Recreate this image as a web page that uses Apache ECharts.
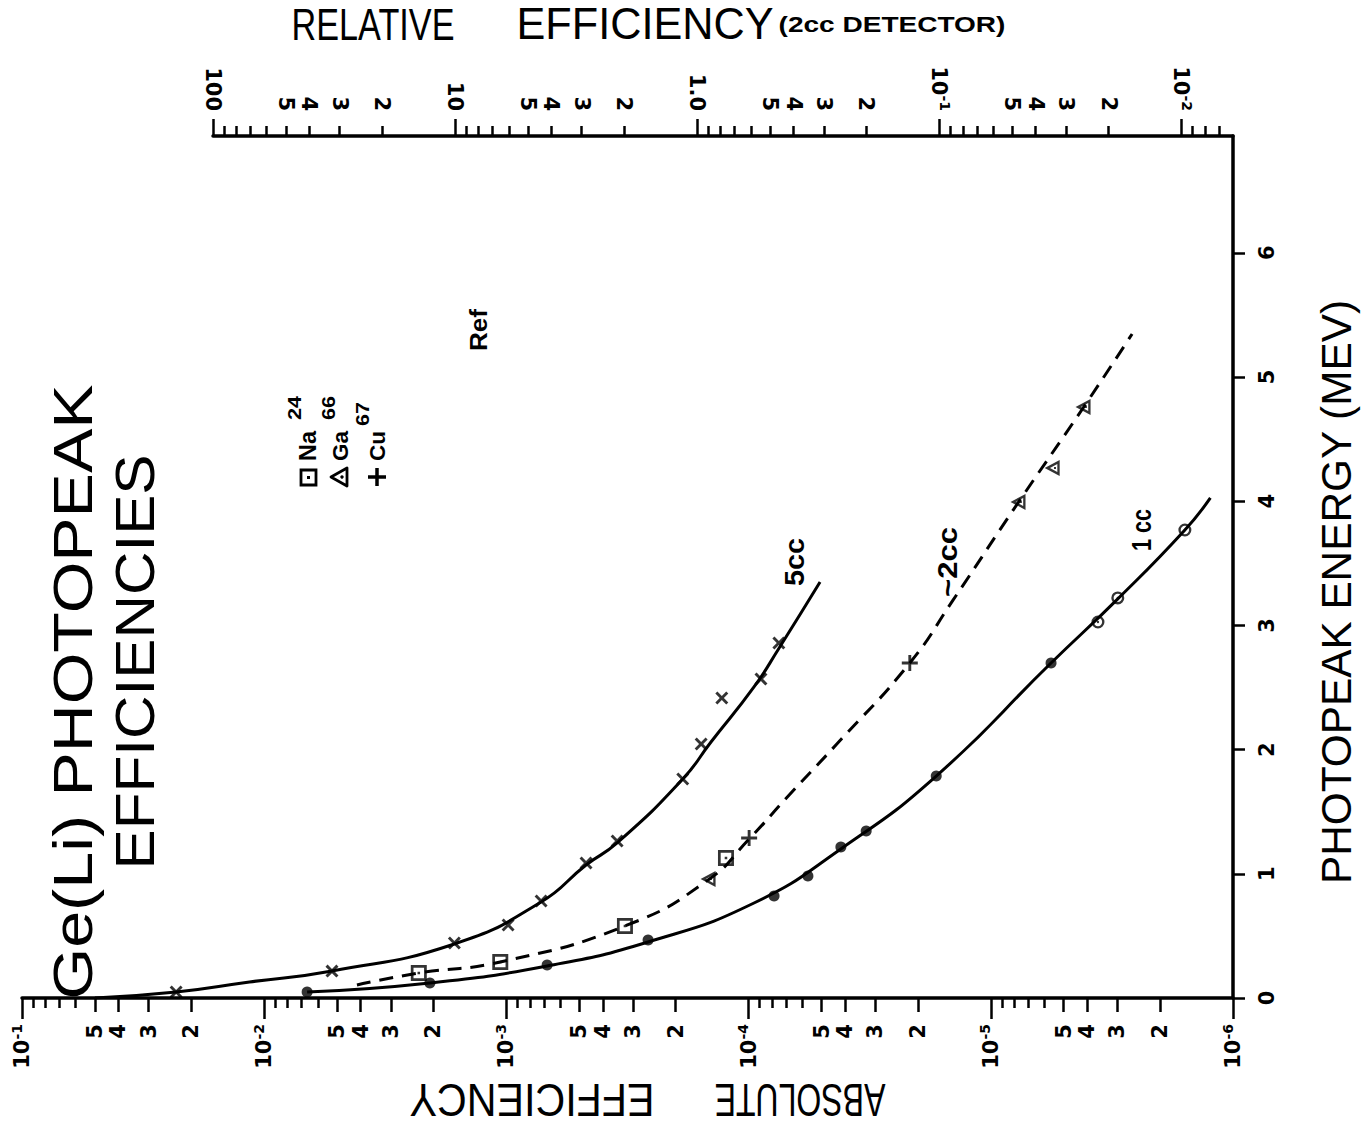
<!DOCTYPE html>
<html>
<head>
<meta charset="utf-8">
<script src="https://cdn.jsdelivr.net/npm/echarts@6/dist/echarts.min.js"></script>
<style>
  html, body { margin: 0; padding: 0; background: #fff; }
  #chart { width: 1362px; height: 1127px; }
</style>
</head>
<body>
<div id="chart"></div>
<script>
// ---- axis ticks -----------------------------------------------------------
// absolute efficiency: decades 10^-1 ... 10^-6 (log10 exponents)
const absDecades = [-1, -2, -3, -4, -5, -6];
// relative efficiency of the 2 cc detector: 100 ... 10^-2
const relDecades = [2, 1, 0, -1, -2];
const relDecadeText = ['100', '10', '1.0', '10|-1', '10|-2'];
const relMin = -2.213;               // limits of the relative scale
const relMax = 2;
// in-decade tick mantissas
const labelledMantissas = [2, 3, 4, 5];
const plainMantissas = [6, 7, 8, 9];
// photopeak energy (MeV)
const energyTicks = [0, 1, 2, 3, 4, 5, 6];
const energyMax = 6.94;

// ---- 5 cc detector --------------------------------------------------------
const cc5CurveE   = [0, 0.048, 0.129, 0.217, 0.435, 0.773, 1.071, 1.248, 1.763, 2.061, 2.504, 2.818, 3.349];
const cc5CurveEff = [5.0e-2, 2.31e-2, 1.15e-2, 5.25e-3, 1.64e-3, 7.19e-4, 4.69e-4, 3.49e-4, 1.87e-4, 1.43e-4, 9.5e-5, 7.48e-5, 5.07e-5];
const cc5PointE   = [0.048, 0.217, 0.443, 0.588, 0.781, 1.087, 1.264, 1.763, 2.045, 2.415, 2.568, 2.858];
const cc5PointEff = [2.31e-2, 5.25e-3, 1.64e-3, 9.84e-4, 7.19e-4, 4.69e-4, 3.49e-4, 1.87e-4, 1.57e-4, 1.29e-4, 8.89e-5, 7.50e-5];

// ---- ~2 cc detector -------------------------------------------------------
const cc2CurveE   = [0.105, 0.201, 0.290, 0.580, 0.950, 1.280, 1.643, 2.037, 2.697, 3.205, 3.986, 4.750, 5.346];
const cc2CurveEff = [4.14e-3, 2.30e-3, 1.06e-3, 3.24e-4, 1.47e-4, 9.95e-5, 6.74e-5, 4.36e-5, 2.16e-5, 1.43e-5, 7.72e-6, 4.16e-6, 2.61e-6];
const na24E   = [0.201, 0.290, 0.580, 1.127];
const na24Eff = [2.30e-3, 1.06e-3, 3.24e-4, 1.24e-4];
const ga66E   = [0.958, 3.994, 4.267, 4.758];
const ga66Eff = [1.47e-4, 7.72e-6, 5.58e-6, 4.16e-6];
const cu67E   = [1.288, 2.697];
const cu67Eff = [9.95e-5, 2.16e-5];

// ---- 1 cc detector --------------------------------------------------------
const cc1CurveE   = [0.048, 0.121, 0.258, 0.451, 0.765, 1.200, 1.787, 2.697, 3.213, 3.768, 4.026];
const cc1CurveEff = [6.65e-3, 2.07e-3, 6.79e-4, 2.60e-4, 9.50e-5, 4.16e-5, 1.68e-5, 5.64e-6, 2.99e-6, 1.58e-6, 1.24e-6];
const cc1DotE     = [0.048, 0.121, 0.266, 0.467, 0.821, 0.982, 1.216, 1.345, 1.787, 2.697];
const cc1DotEff   = [6.65e-3, 2.07e-3, 6.79e-4, 2.60e-4, 7.85e-5, 5.69e-5, 4.16e-5, 3.27e-5, 1.68e-5, 5.64e-6];
const cc1RingE    = [3.027, 3.221, 3.768];
const cc1RingEff  = [3.61e-6, 2.99e-6, 1.58e-6];

// ---------------------------------------------------------------------------
const INK = '#000';
const SANS = "'Liberation Sans', Arial, sans-serif";
const DIGITS = "'DejaVu Sans', sans-serif";
const TICK_FONT = 21;
const SUP_FONT = 14;

const toXY = (E, eff) => E.map((e, i) => [Math.log10(eff[i]), e]);
const dec = (m, d) => Math.log10(m) + d;
const key = v => v.toFixed(5);

// marker shapes
const SYM_X = 'path://M0,1.6L1.6,0L5,3.4L8.4,0L10,1.6L6.6,5L10,8.4L8.4,10L5,6.6L1.6,10L0,8.4L3.4,5Z';
const SYM_PLUS = 'path://M4.1,0H5.9V4.1H10V5.9H5.9V10H4.1V5.9H0V4.1H4.1Z';
const SYM_SQ = 'path://M0,0H10V10H0Z M1.7,1.7V8.3H8.3V1.7Z M4.2,4.2H5.8V5.8H4.2Z';
const SYM_TRI = 'path://M5,0L10,9L0,9Z M5,3.2L2.5,7.6L7.5,7.6Z M4.4,5.6H5.6V6.8H4.4Z';
const SYM_RING = 'path://M5,0A5,5,0,1,1,5,10A5,5,0,1,1,5,0Z M5,1.8A3.2,3.2,0,1,0,5,8.2A3.2,3.2,0,1,0,5,1.8Z M5,4.1A0.9,0.9,0,1,1,5,5.9A0.9,0.9,0,1,1,5,4.1Z';

// ---- tick sets ------------------------------------------------------------
function minorTicks(decades, mantissas, lo, hi) {
  const out = [];
  decades.forEach(d => mantissas.forEach(m => {
    const v = dec(m, d);
    if (v >= lo - 1e-9 && v <= hi + 1e-9) out.push({ v, t: String(m) });
  }));
  return out;
}
const absMid = minorTicks(absDecades.slice(1), labelledMantissas, -6, -1);
const absSmall = minorTicks(absDecades.slice(1), plainMantissas, -6, -1);
const relMid = minorTicks([1, 0, -1, -2, -3], labelledMantissas, relMin, relMax);
const relSmall = minorTicks([1, 0, -1, -2, -3], plainMantissas, relMin, relMax);

const labelText = {};
absDecades.forEach(d => { labelText['a' + key(d)] = '10|' + d; });
relDecades.forEach((d, i) => { labelText['r' + key(d)] = relDecadeText[i]; });
absMid.forEach(o => { labelText['a' + key(o.v)] = o.t; });
relMid.forEach(o => { labelText['r' + key(o.v)] = o.t; });

function fmt(prefix) {
  return v => {
    const t = labelText[prefix + key(v)] || '';
    if (t.indexOf('|') >= 0) {
      const p = t.split('|');
      return '{b|' + p[0] + '}{s|' + p[1] + '}';
    }
    return '{b|' + t + '}';
  };
}

const labelRich = {
  b: { fontSize: TICK_FONT, fontWeight: 'bold', fontFamily: DIGITS, color: INK, lineHeight: 25 },
  s: { fontSize: SUP_FONT, fontWeight: 'bold', fontFamily: DIGITS, color: INK, lineHeight: 14, verticalAlign: 'top' }
};
const tickTextStyle = { color: INK, fontSize: TICK_FONT, fontWeight: 'bold', fontFamily: DIGITS };

function logAxis(o) {
  return {
    type: 'value',
    gridIndex: o.grid,
    position: o.position,
    min: o.min, max: o.max,
    inverse: true,
    axisLine: { show: !!o.line, onZero: false, lineStyle: { color: INK, width: 3.5 } },
    axisTick: { show: true, customValues: o.ticks, length: o.tickLen, lineStyle: { color: INK, width: 2.5 } },
    axisLabel: o.labels ? Object.assign({
      show: true, customValues: o.ticks, rotate: 90, margin: o.margin, hideOverlap: false,
      showMinLabel: true, showMaxLabel: true,
      formatter: fmt(o.prefix), rich: labelRich
    }, tickTextStyle) : { show: false },
    splitLine: { show: false },
    axisPointer: { show: false }
  };
}

// ---- texts ----------------------------------------------------------------
const mctx = document.createElement('canvas').getContext('2d');
function text(str, cx, cy, rotDeg, size, family, weight, len, squeeze) {
  mctx.font = weight + ' ' + size + 'px ' + family;
  const w = mctx.measureText(str).width;
  return {
    type: 'text', x: cx, y: cy, rotation: rotDeg * Math.PI / 180,
    scaleX: len ? len / w : 1, scaleY: squeeze || 1, silent: true,
    style: {
      text: str, fontSize: size, fontFamily: family, fontWeight: weight, fill: INK,
      textAlign: 'center', textVerticalAlign: 'middle', align: 'center', verticalAlign: 'middle'
    }
  };
}

const graphics = [
  // title
  text('Ge(Li) PHOTOPEAK', 72, 692, 90, 56, SANS, 'normal', 615),
  text('EFFICIENCIES', 134, 662, 90, 56, SANS, 'normal', 415),
  // axis titles
  text('RELATIVE', 373, 24, 0, 44, SANS, 'normal', 163),
  text('EFFICIENCY', 645, 24, 0, 44, SANS, 'normal', 257),
  text('(2cc DETECTOR)', 892, 24, 0, 22, SANS, 'bold', 227),
  text('ABSOLUTE', 800, 1100, 180, 46, SANS, 'normal', 171),
  text('EFFICIENCY', 532, 1100, 180, 46, SANS, 'normal', 245),
  text('PHOTOPEAK ENERGY (MEV)', 1337, 592, 90, 42, SANS, 'normal', 585),
  // curve labels
  text('5cc', 795, 562, 90, 27, SANS, 'bold', 48),
  text('~2cc', 948, 562, 90, 27, SANS, 'bold', 70),
  text('1 cc', 1142, 530, 90, 27, SANS, 'bold', 42),
  text('Ref', 478, 330, 90, 24, SANS, 'bold', 42),
  // source key
  text('Na', 308, 446, 90, 23, SANS, 'bold', 30),
  text('24', 294, 408, 90, 19, SANS, 'bold', 24),
  text('Ga', 340, 446, 90, 23, SANS, 'bold', 30),
  text('66', 328, 408, 90, 19, SANS, 'bold', 24),
  text('Cu', 377, 446, 90, 23, SANS, 'bold', 30),
  text('67', 362, 414, 90, 19, SANS, 'bold', 24),
  { type: 'rect', silent: true, shape: { x: 301, y: 470, width: 15, height: 15 },
    style: { fill: 'none', stroke: INK, lineWidth: 2.8 } },
  { type: 'rect', silent: true, shape: { x: 307, y: 476, width: 3, height: 3 }, style: { fill: INK } },
  { type: 'polygon', silent: true, shape: { points: [[331, 477], [347, 468], [347, 486]] },
    style: { fill: 'none', stroke: INK, lineWidth: 2.8, lineJoin: 'round' } },
  { type: 'circle', silent: true, shape: { cx: 342, cy: 477, r: 1.7 }, style: { fill: INK } },
  { type: 'line', silent: true, shape: { x1: 368, y1: 477, x2: 386, y2: 477 }, style: { stroke: INK, lineWidth: 3.5 } },
  { type: 'line', silent: true, shape: { x1: 377, y1: 468, x2: 377, y2: 486 }, style: { stroke: INK, lineWidth: 3.5 } }
];

// ---- chart ----------------------------------------------------------------
const curve = (name, data, dash) => ({
  type: 'line', name, data, smooth: 0.5, showSymbol: false, z: 2,
  lineStyle: { color: INK, width: 3, type: dash || 'solid' }, silent: true
});
const marks = (name, data, symbol, size, rotate) => ({
  type: 'scatter', name, data, symbol, symbolSize: size, symbolRotate: rotate || 0, z: 4,
  itemStyle: { color: INK }, silent: true
});

const option = {
  animation: false,
  backgroundColor: '#fff',
  grid: [
    { left: 22, right: 129, top: 136, bottom: 129, outerBoundsMode: 'none', containLabel: false },
    { left: 213, right: 129, top: 136, height: 20, outerBoundsMode: 'none', containLabel: false }
  ],
  xAxis: [
    logAxis({ grid: 0, position: 'bottom', min: -6, max: -1, line: true, ticks: absDecades, tickLen: 21,
              labels: true, prefix: 'a', margin: 26 }),
    logAxis({ grid: 0, position: 'bottom', min: -6, max: -1, ticks: absMid.map(o => o.v), tickLen: 14,
              labels: true, prefix: 'a', margin: 26 }),
    logAxis({ grid: 0, position: 'bottom', min: -6, max: -1, ticks: absSmall.map(o => o.v), tickLen: 10 }),
    logAxis({ grid: 1, position: 'top', min: relMin, max: relMax, line: true, ticks: relDecades, tickLen: 17,
              labels: true, prefix: 'r', margin: 25 }),
    logAxis({ grid: 1, position: 'top', min: relMin, max: relMax, ticks: relMid.map(o => o.v), tickLen: 10,
              labels: true, prefix: 'r', margin: 25 }),
    logAxis({ grid: 1, position: 'top', min: relMin, max: relMax, ticks: relSmall.map(o => o.v), tickLen: 10 })
  ],
  yAxis: [
    {
      type: 'value', gridIndex: 0, position: 'right', min: 0, max: energyMax,
      axisLine: { show: true, onZero: false, lineStyle: { color: INK, width: 3.5 } },
      axisTick: { show: true, customValues: energyTicks, length: 12, lineStyle: { color: INK, width: 2.5 } },
      axisLabel: Object.assign({ show: true, customValues: energyTicks, rotate: 90, margin: 21, hideOverlap: false,
                   formatter: v => '{b|' + v + '}', rich: labelRich }, tickTextStyle),
      splitLine: { show: false }
    },
    { type: 'value', gridIndex: 1, show: false, min: 0, max: 1 }
  ],
  series: [
    curve('5 cc', toXY(cc5CurveE, cc5CurveEff)),
    curve('~2 cc', toXY(cc2CurveE, cc2CurveEff), [14, 9]),
    curve('1 cc', toXY(cc1CurveE, cc1CurveEff)),
    marks('5 cc points', toXY(cc5PointE, cc5PointEff), SYM_X, 13),
    marks('Na24', toXY(na24E, na24Eff), SYM_SQ, 16),
    marks('Ga66', toXY(ga66E, ga66Eff), SYM_TRI, [16, 15], 90),
    marks('Cu67', toXY(cu67E, cu67Eff), SYM_PLUS, 16),
    marks('1 cc points', toXY(cc1DotE, cc1DotEff), 'circle', 11),
    marks('1 cc high energy', toXY(cc1RingE, cc1RingEff), SYM_RING, 13)
  ],
  graphic: graphics
};

const chart = echarts.init(document.getElementById('chart'), null, { renderer: 'svg' });
chart.setOption(option);
</script>
</body>
</html>
